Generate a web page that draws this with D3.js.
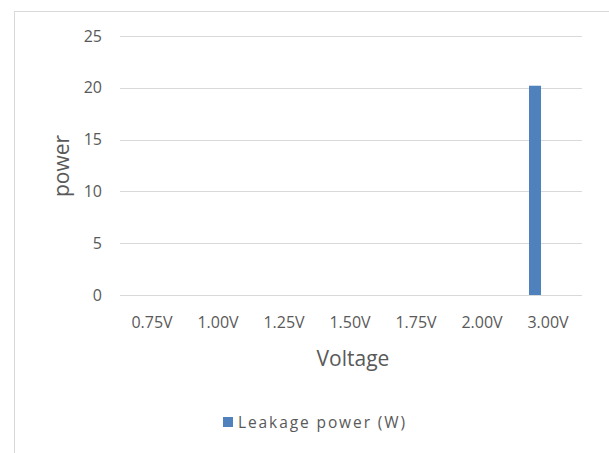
<!DOCTYPE html>
<html>
<head>
<meta charset="utf-8">
<script src="https://cdn.jsdelivr.net/npm/d3@7"></script>
<style>
  html, body { margin: 0; padding: 0; background: #fff; }
  svg { display: block; }
  text { font-family: "Open Sans", "Noto Sans", sans-serif; fill: #595959; }
</style>
</head>
<body>
<svg id="chart" width="609" height="453"></svg>
<script>
const categories = ["0.75V", "1.00V", "1.25V", "1.50V", "1.75V", "2.00V", "3.00V"];
const leakagePower = [0, 0, 0, 0, 0, 0, 20.2];
const yTicks = [0, 5, 10, 15, 20, 25];
const seriesName = "Leakage power (W)";
const xTitle = "Voltage";
const yTitle = "power";

const svg = d3.select("#chart");
const W = 609, H = 453;
const margin = { left: 120, right: 27, top: 36, bottom: 158 };
const FONT = "'Open Sans', 'Noto Sans', sans-serif";

// chart frame
svg.append("rect")
  .attr("x", 14.5).attr("y", 11.5)
  .attr("width", 600).attr("height", 460)
  .attr("fill", "#fff").attr("stroke", "#d9d9d9").attr("stroke-width", 1);

const x = d3.scaleBand()
  .domain(categories)
  .range([margin.left, W - margin.right])
  .paddingInner(0).paddingOuter(0);

const y = d3.scaleLinear()
  .domain([0, 25])
  .range([H - margin.bottom, margin.top]);

// gridlines
svg.append("g")
  .selectAll("line")
  .data(yTicks)
  .join("line")
  .attr("x1", margin.left).attr("x2", W - margin.right)
  .attr("y1", d => Math.round(y(d)) + 0.5).attr("y2", d => Math.round(y(d)) + 0.5)
  .attr("stroke", "#d9d9d9").attr("stroke-width", 1);

// y axis labels
const yAxis = d3.axisLeft(y).tickValues(yTicks).tickSize(0).tickPadding(0);
const yg = svg.append("g").attr("transform", `translate(102,0)`).call(yAxis);
yg.select(".domain").remove();
yg.selectAll("text").style("font-size", "16px").attr("fill", "#595959")
  .style("font-family", FONT);

// x axis labels
const xAxis = d3.axisBottom(x).tickSize(0).tickPadding(0);
const xg = svg.append("g").attr("transform", `translate(-1,317)`).call(xAxis);
xg.select(".domain").remove();
xg.selectAll("text").style("font-size", "16px").attr("fill", "#595959")
  .style("font-family", FONT);

// bars
const barColor = "#4f81bd";
svg.append("g")
  .selectAll("rect")
  .data(categories.map((c, i) => ({ c, v: leakagePower[i] })).filter(d => d.v > 0))
  .join("rect")
  .attr("x", d => x(d.c) + x.bandwidth() * 0.197)
  .attr("width", x.bandwidth() * 0.182)
  .attr("y", d => y(d.v))
  .attr("height", d => y(0) - y(d.v))
  .attr("fill", barColor);

// axis titles
svg.append("text")
  .attr("x", 353)
  .attr("y", 366)
  .attr("text-anchor", "middle")
  .style("font-size", "21px")
  .text(xTitle);

svg.append("text")
  .attr("transform", `translate(69,166) rotate(-90)`)
  .attr("text-anchor", "middle")
  .style("font-size", "21px")
  .text(yTitle);

// legend
const lg = svg.append("g").attr("transform", "translate(223,417)");
lg.append("rect").attr("width", 10).attr("height", 10).attr("fill", barColor);
lg.append("text").attr("x", 15).attr("y", 10.5)
  .style("font-size", "15.5px")
  .style("letter-spacing", "1.9px")
  .text(seriesName);
</script>
</body>
</html>
